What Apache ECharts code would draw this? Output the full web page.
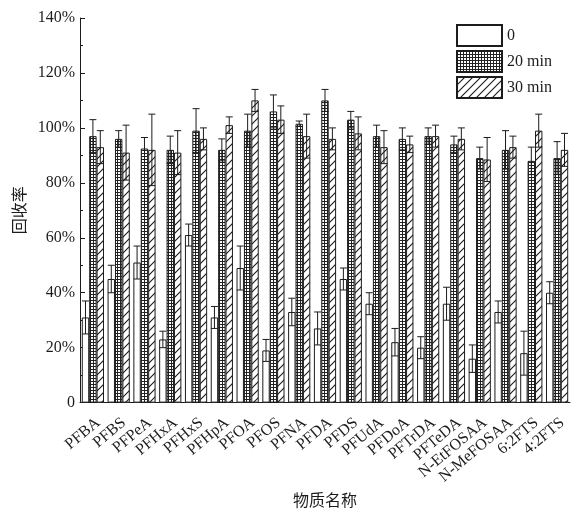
<!DOCTYPE html>
<html>
<head>
<meta charset="utf-8">
<script src="https://cdn.jsdelivr.net/npm/echarts@6/dist/echarts.min.js"></script>
<style>
  html, body { margin: 0; padding: 0; background: #fff; }
  #chart { width: 571px; height: 513px; }
</style>
</head>
<body>
<div id="chart"></div>
<script>
// Compounds on the x axis
const categories = ['PFBA', 'PFBS', 'PFPeA', 'PFHxA', 'PFHxS', 'PFHpA', 'PFOA', 'PFOS', 'PFNA', 'PFDA',
  'PFDS', 'PFUdA', 'PFDoA', 'PFTrDA', 'PFTeDA', 'N-EtFOSAA', 'N-MeFOSAA', '6:2FTS', '4:2FTS'];

// Recovery (%) and its deviation at each sampling time
const rec0  = [31, 45, 51, 23, 61, 31, 49, 19, 33, 27, 45, 36, 22, 20, 36, 16, 33, 18, 40];
const err0  = [6, 5, 6, 3, 4, 4, 8, 4, 5, 6, 4, 4, 5, 4, 6, 5, 4, 8, 4];
const rec20 = [97, 96, 92.5, 92, 99, 92, 99, 106, 101.5, 110, 103, 97, 96, 97, 94, 89, 92, 88, 89];
const err20 = [6, 3, 4, 5, 8, 4, 6, 6, 1, 4, 3, 4, 4, 3, 3, 4, 7, 5, 6];
const rec30 = [93, 91, 92, 91, 96, 101, 110, 103, 97, 96, 98, 93, 94, 97, 96, 88.5, 93, 99, 92];
const err30 = [6, 10, 13, 8, 4, 3, 4, 5, 8, 4, 6, 6, 3, 4, 4, 8, 4, 6, 6];

const seriesNames = ['0', '20 min', '30 min'];
const yTicks = [0, 20, 40, 60, 80, 100, 120, 140];

const INK = '#1c1c1c';
const SERIF = '"Liberation Serif", "DejaVu Serif", serif';
const CJK = '"Noto Sans CJK SC", sans-serif';
const BAR_W = 7.4;

// Fill patterns: fine grid for 20 min, diagonal hatching for 30 min
function gridPattern() {
  const c = document.createElement('canvas');
  c.width = 3; c.height = 3;
  const g = c.getContext('2d');
  g.fillStyle = '#fff'; g.fillRect(0, 0, 3, 3);
  g.fillStyle = '#222';
  g.fillRect(0, 0, 3, 1);
  g.fillRect(0, 0, 1, 3);
  return { image: c, repetition: 'repeat' };
}
function hatchPattern() {
  const s = 8;
  const c = document.createElement('canvas');
  c.width = s; c.height = s;
  const g = c.getContext('2d');
  g.fillStyle = '#fff'; g.fillRect(0, 0, s, s);
  g.strokeStyle = '#1a1a1a'; g.lineWidth = 1.1;
  g.beginPath();
  g.moveTo(-1, s + 1); g.lineTo(s + 1, -1);
  g.moveTo(-1, 1); g.lineTo(1, -1);
  g.moveTo(s - 1, s + 1); g.lineTo(s + 1, s - 1);
  g.stroke();
  return { image: c, repetition: 'repeat' };
}

const fills = ['#ffffff', gridPattern(), hatchPattern()];
const values = [rec0, rec20, rec30];
const errors = [err0, err20, err30];

const barSeries = seriesNames.map((name, i) => ({
  name: name,
  type: 'bar',
  barWidth: BAR_W,
  barGap: '0%',
  data: values[i],
  itemStyle: { color: fills[i], borderColor: INK, borderWidth: 1 },
  emphasis: { disabled: true },
  z: 2
}));

// Symmetric error bars with caps, centred on each bar of the group
const errSeries = seriesNames.map((name, i) => ({
  type: 'custom',
  name: name + ' err',
  z: 5,
  data: values[i].map((v, k) => [k, v, errors[i][k]]),
  renderItem: function (params, api) {
    const k = api.value(0), v = api.value(1), e = api.value(2);
    const x = api.coord([k, v])[0] + (i - 1) * BAR_W;
    const yHi = api.coord([k, v + e])[1];
    const yLo = api.coord([k, v - e])[1];
    const cap = 3.5;
    const st = { stroke: INK, lineWidth: 1 };
    return {
      type: 'group',
      children: [
        { type: 'line', shape: { x1: x, y1: yLo, x2: x, y2: yHi }, style: st },
        { type: 'line', shape: { x1: x - cap, y1: yHi, x2: x + cap, y2: yHi }, style: st },
        { type: 'line', shape: { x1: x - cap, y1: yLo, x2: x + cap, y2: yLo }, style: st }
      ]
    };
  }
}));

const chart = echarts.init(document.getElementById('chart'), null, { renderer: 'canvas' });
chart.setOption({
  backgroundColor: '#fff',
  animation: false,
  grid: { left: 80, right: 1, top: 18, bottom: 106 },
  legend: {
    data: seriesNames,
    orient: 'vertical',
    left: 451,
    top: 19,
    itemWidth: 45,
    itemHeight: 21,
    itemGap: 3,
    icon: 'rect',
    selectedMode: false,
    textStyle: { fontFamily: SERIF, fontSize: 16, color: INK }
  },
  xAxis: {
    type: 'category',
    data: categories,
    name: '物质名称',
    nameLocation: 'middle',
    nameGap: 83,
    nameTextStyle: { fontFamily: CJK, fontSize: 16, color: INK },
    axisLine: { lineStyle: { color: INK, width: 1 } },
    axisTick: { show: false },
    axisLabel: {
      interval: 0,
      rotate: 40,
      margin: 12,
      align: 'right',
      verticalAlign: 'top',
      fontFamily: SERIF,
      fontSize: 16,
      color: INK
    }
  },
  yAxis: {
    type: 'value',
    min: yTicks[0],
    max: yTicks[yTicks.length - 1],
    interval: yTicks[1] - yTicks[0],
    name: '回收率',
    nameLocation: 'middle',
    nameGap: 49,
    nameRotate: 90,
    nameTextStyle: { fontFamily: CJK, fontSize: 16, color: INK },
    axisLine: { show: true, lineStyle: { color: INK, width: 1 } },
    axisTick: { show: true, inside: true, length: 5, lineStyle: { color: INK } },
    minorTick: { show: true, splitNumber: 2, length: 3, lineStyle: { color: INK } },
    splitLine: { show: false },
    axisLabel: {
      margin: 5,
      fontFamily: SERIF,
      fontSize: 16,
      color: INK,
      formatter: v => (v === 0 ? '0' : v + '%')
    }
  },
  series: barSeries.concat(errSeries)
});
</script>
</body>
</html>
